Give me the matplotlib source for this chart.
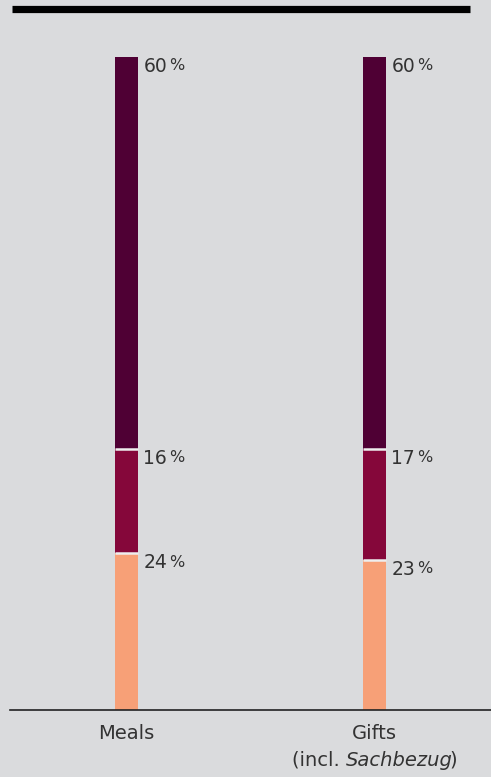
import numpy as np
import matplotlib
matplotlib.use("Agg")
import matplotlib.pyplot as plt
from matplotlib.lines import Line2D

plt.rcParams['font.family'] = ['DejaVu Sans']

categories = ['Meals', 'Gifts']
subtitle = [None, [('(incl. ', 'normal'), ('Sachbezug', 'italic'), (')', 'normal')]]
bottom_share = [24, 23]
middle_share = [16, 17]
top_share = [60, 60]
colors = ['#f7a077', '#85073a', '#4f0034']
bg = '#dadbdd'
txt = '#333333'

fig = plt.figure(figsize=(4.91, 7.77), dpi=100, facecolor=bg)
W, H = 491, 777
ax = fig.add_axes([10 / W, (H - 710) / H, 481 / W, 653 / H])
ax.set_facecolor(bg)

x = np.arange(len(categories))
width = 23 / 248
segs = [bottom_share, middle_share, top_share]
base = np.zeros(len(categories))
for vals, c in zip(segs, colors):
    ax.bar(x, vals, width, bottom=base, color=c, linewidth=0)
    base = base + np.array(vals)

# thin light gaps between stacked segments
cum = np.cumsum(segs, axis=0)[:-1]
for i in x:
    ax.hlines(cum[:, i], i - width / 2, i + width / 2, color='#eeeeee', linewidth=1.8)

ax.set_xlim(-116.5 / 248, (481 - 116.5) / 248)
ax.set_ylim(0, 100)

for s in ['top', 'left', 'right']:
    ax.spines[s].set_visible(False)
ax.spines['bottom'].set_color('#222222')
ax.spines['bottom'].set_linewidth(1.2)
ax.set_yticks([])
ax.set_xticks(x)
ax.set_xticklabels(categories, fontsize=14, color=txt)
ax.tick_params(axis='x', length=0, pad=10)

fig.canvas.draw()
renderer = fig.canvas.get_renderer()

# second line of the category label, with an italic word
for i, parts in enumerate(subtitle):
    if parts is None:
        continue
    pieces = []
    for s, style in parts:
        t = ax.annotate(s, xy=(x[i], 0), xytext=(0, -56), textcoords='offset pixels',
                        ha='left', va='baseline', fontsize=14, style=style, color=txt,
                        annotation_clip=False)
        pieces.append(t)
    # italic extents run a bit wide, so pull the next piece in
    widths = [p.get_window_extent(renderer).width - (4 if st == 'italic' else 0)
              for p, (_, st) in zip(pieces, parts)]
    pos = -sum(widths) / 2
    for p, w in zip(pieces, widths):
        p.xyann = (pos, -56)
        pos += w

# value labels: number + smaller percent sign
base = np.zeros(len(categories))
for vals in segs:
    for i, v in enumerate(vals):
        ytop = base[i] + v
        t = ax.annotate(str(v), xy=(x[i] + width / 2, ytop), xytext=(3.8, -10.6),
                        textcoords='offset points', ha='left', va='baseline',
                        fontsize=13.5, color=txt)
        bb = t.get_window_extent(renderer)
        xr = ax.transData.inverted().transform((bb.x1, bb.y0))[0]
        ax.annotate('%', xy=(xr, ytop), xytext=(1.5, -9.7), textcoords='offset points',
                    ha='left', va='baseline', fontsize=11.5, color=txt)
    base = base + np.array(vals)

fig.add_artist(Line2D([12 / W, 470 / W], [1 - 8.5 / H, 1 - 8.5 / H],
                      color='black', linewidth=5.2, solid_capstyle='butt'))

fig.savefig('out.png', dpi=100, facecolor=bg)
